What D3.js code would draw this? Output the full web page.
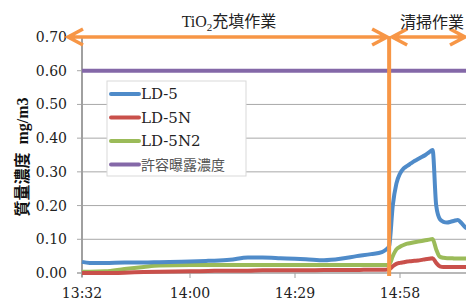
<!DOCTYPE html>
<html>
<head>
<meta charset="utf-8">
<script src="https://cdn.jsdelivr.net/npm/d3@7"></script>
<style>
  body { margin: 0; background: white; }
  svg { display: block; }
</style>
</head>
<body>
<div id="chart"></div>
<script>
// data
const times = ["13:32","13:34","13:38","13:43","13:48","13:52","14:00","14:05","14:11","14:16",
  "14:20","14:25","14:29","14:32","14:37","14:42","14:46","14:50","14:53","14:54",
  "14:55","14:56","14:57","14:58","14:59","15:00","15:01","15:02","15:03","15:04",
  "15:05","15:06","15:07","15:08","15:09","15:10","15:11","15:12","15:13","15:14",
  "15:15","15:16","15:17"];

const ld5 = [0.033,0.030,0.030,0.031,0.031,0.032,0.034,0.036,0.039,0.046,
  0.046,0.044,0.042,0.041,0.038,0.043,0.050,0.056,0.062,0.068,
  0.080,0.200,0.265,0.295,0.310,0.318,0.325,0.332,0.338,0.344,
  0.350,0.358,0.365,0.200,0.160,0.152,0.150,0.152,0.155,0.157,
  0.148,0.136,0.130];

const ld5n = [0.000,0.000,0.000,0.001,0.003,0.004,0.005,0.006,0.007,0.007,
  0.008,0.008,0.008,0.008,0.009,0.009,0.009,0.010,0.010,0.010,
  0.011,0.020,0.027,0.030,0.032,0.034,0.035,0.036,0.037,0.039,
  0.041,0.042,0.044,0.030,0.020,0.018,0.018,0.018,0.018,0.018,
  0.018,0.018,0.018];

const ld5n2 = [0.004,0.004,0.005,0.012,0.018,0.022,0.024,0.024,0.024,0.024,
  0.024,0.024,0.024,0.024,0.024,0.024,0.024,0.024,0.024,0.024,
  0.024,0.050,0.070,0.078,0.083,0.087,0.089,0.091,0.093,0.095,
  0.097,0.099,0.101,0.070,0.048,0.045,0.044,0.044,0.043,0.043,
  0.043,0.043,0.043];

const limit = 0.60;  // 許容曝露濃度

const seriesNames = ["LD-5", "LD-5N", "LD-5N2", "許容曝露濃度"];
const colors = ["#4f8bc9", "#c9504b", "#9bbb59", "#8468a8"];

const yTicks = [0, 0.1, 0.2, 0.3, 0.4, 0.5, 0.6, 0.7];
const xTicks = ["13:32", "14:00", "14:29", "14:58"];
const switchTime = "14:55";  // 作業の切り替え

const W = 466, H = 308;

function toMin(s) {
  const p = s.split(":");
  return +p[0] * 60 + +p[1];
}

const svg = d3.select("#chart")
  .append("svg")
  .attr("width", W)
  .attr("height", H);

// x: Excel category axis, ticks are a little uneven
const x = d3.scaleLinear()
  .domain(xTicks.map(toMin))
  .range([82, 190, 295, 400]);

const y = d3.scaleLinear()
  .domain([0, 0.7])
  .range([273, 37]);

// gridlines + y ticks
svg.append("g")
  .selectAll("line")
  .data(yTicks.slice(1))
  .join("line")
  .attr("x1", 77)
  .attr("x2", W)
  .attr("y1", d => y(d))
  .attr("y2", d => y(d))
  .attr("stroke", "#a8a8a8")
  .attr("stroke-width", 1);

// y tick labels
svg.append("g")
  .selectAll("text")
  .data(yTicks)
  .join("text")
  .attr("x", 67)
  .attr("y", d => y(d))
  .attr("dy", "0.36em")
  .attr("text-anchor", "end")
  .style("font-family", "DejaVu Serif")
  .style("font-size", "14px")
  .style("fill", "#222")
  .text(d => d.toFixed(2));

// axes lines
svg.append("line")
  .attr("x1", 77).attr("x2", W)
  .attr("y1", y(0)).attr("y2", y(0))
  .attr("stroke", "#a0a0a0").attr("stroke-width", 1.5);
svg.append("line")
  .attr("x1", x(toMin(times[0]))).attr("x2", x(toMin(times[0])))
  .attr("y1", y(0.7)).attr("y2", y(0) + 4)
  .attr("stroke", "#a0a0a0").attr("stroke-width", 2);

// x ticks
svg.append("g")
  .selectAll("line")
  .data(xTicks)
  .join("line")
  .attr("x1", d => x(toMin(d)))
  .attr("x2", d => x(toMin(d)))
  .attr("y1", y(0))
  .attr("y2", y(0) + 5)
  .attr("stroke", "#a0a0a0");

svg.append("g")
  .selectAll("text")
  .data(xTicks)
  .join("text")
  .attr("x", d => x(toMin(d)))
  .attr("y", 298)
  .attr("text-anchor", "middle")
  .style("font-family", "DejaVu Serif")
  .style("font-size", "14px")
  .style("fill", "#222")
  .text(d => d);

// y axis title
svg.append("text")
  .attr("transform", `translate(22,${(y(0.7) + y(0)) / 2 + 2}) rotate(-90)`)
  .attr("text-anchor", "middle")
  .attr("dy", "0.35em")
  .style("font-family", "'Liberation Serif', 'Noto Sans CJK JP'")
  .style("font-size", "16px")
  .style("font-weight", "bold")
  .style("fill", "#111")
  .text("質量濃度\u00a0\u00a0mg/m3");

// limit line
svg.append("line")
  .attr("x1", x(toMin(times[0])))
  .attr("x2", x(toMin(times[times.length - 1])))
  .attr("y1", y(limit))
  .attr("y2", y(limit))
  .attr("stroke", colors[3])
  .attr("stroke-width", 4);

// data lines (Excel smoothed lines)
const line = d3.line()
  .x((d, i) => x(toMin(times[i])))
  .y(d => y(d))
  .curve(d3.curveMonotoneX);

[ld5n2, ld5n, ld5].forEach((vals, k) => {
  svg.append("path")
    .datum(vals)
    .attr("d", line)
    .attr("fill", "none")
    .attr("stroke", colors[[2, 1, 0][k]])
    .attr("stroke-width", 4)
    .attr("stroke-linejoin", "round");
});

// legend
const legend = svg.append("g");
legend.append("rect")
  .attr("x", 107).attr("y", 81)
  .attr("width", 139).attr("height", 95)
  .attr("fill", "white")
  .attr("stroke", "#d9d9d9");

seriesNames.forEach((name, i) => {
  const ly = 94 + i * 23.5;
  legend.append("line")
    .attr("x1", 111).attr("x2", 139)
    .attr("y1", ly).attr("y2", ly)
    .attr("stroke", colors[i])
    .attr("stroke-width", 4)
    .attr("stroke-linecap", "round");
  legend.append("text")
    .attr("x", 141)
    .attr("y", ly)
    .attr("dy", "0.36em")
    .style("font-family", i < 3 ? "DejaVu Serif" : "'Noto Sans CJK JP'")
    .style("font-size", i < 3 ? "15px" : "14px")
    .style("fill", i < 3 ? "#222" : "#555")
    .text(name);
});

// work period arrows
const orange = "#f79646";
const xs = x(toMin(switchTime));
const ay = y(0.7);
const head = 15, half = 8;

svg.append("line")
  .attr("x1", xs).attr("x2", xs)
  .attr("y1", ay).attr("y2", y(0) + 3)
  .attr("stroke", orange).attr("stroke-width", 4);

function arrow(x1, x2) {
  svg.append("path")
    .attr("d", `M${x1},${ay}L${x2},${ay}` +
      `M${x1 + head},${ay - half}L${x1},${ay}L${x1 + head},${ay + half}` +
      `M${x2 - head},${ay - half}L${x2},${ay}L${x2 - head},${ay + half}`)
    .attr("fill", "none")
    .attr("stroke", orange)
    .attr("stroke-width", 3.5)
    .attr("stroke-linejoin", "miter");
}
arrow(x(toMin(times[0])) - 14, xs - 2);
arrow(xs + 3, W - 1);

const title1 = svg.append("text")
  .attr("x", 229)
  .attr("y", 27)
  .attr("text-anchor", "middle")
  .style("font-family", "'Liberation Serif', 'Noto Sans CJK JP'")
  .style("font-size", "16px")
  .style("fill", "#222");
title1.append("tspan").text("TiO");
title1.append("tspan").attr("dy", 4).style("font-size", "11px").text("2");
title1.append("tspan").attr("dy", -4).text("充填作業");

svg.append("text")
  .attr("x", 400)
  .attr("y", 28)
  .style("font-family", "'Noto Sans CJK JP'")
  .style("font-size", "16px")
  .style("fill", "#222")
  .text("清掃作業");
</script>
</body>
</html>
